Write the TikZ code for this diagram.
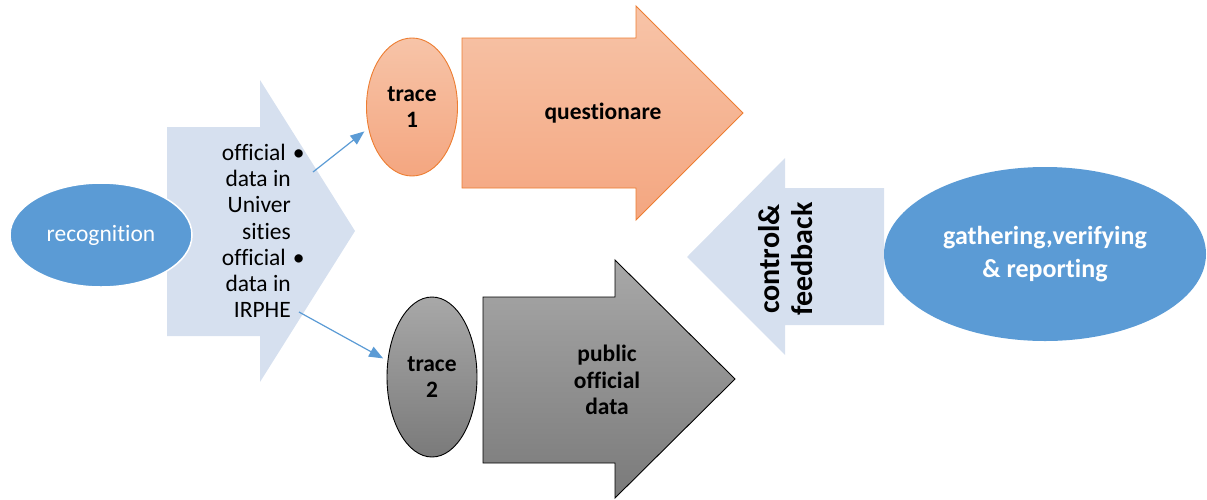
\documentclass[tikz,border=0pt]{standalone}
\usepackage{fontspec}
\setmainfont{Carlito}[Ligatures=NoCommon]
\usepackage{tikz}
\usetikzlibrary{arrows.meta,positioning,shapes.geometric}
\definecolor{my_blue}{RGB}{91,155,213}
\definecolor{my_pale}{RGB}{214,224,239}
\definecolor{my_orange}{RGB}{237,125,49}
\definecolor{my_peach_top}{RGB}{247,196,168}
\definecolor{my_peach_bot}{RGB}{244,166,128}
\definecolor{my_grey_top}{RGB}{168,168,168}
\definecolor{my_grey_bot}{RGB}{122,122,122}
\tikzset{
  blob/.style = {ellipse, inner sep=0pt, align=center, text centered},
  blob_b/.style = {blob, fill=my_blue, draw=white, line width=1.5pt, text=white},
  blob_o/.style = {blob, draw=my_orange, line width=0.9pt, top color=my_peach_top, bottom color=my_peach_bot},
  blob_g/.style = {blob, draw=black, line width=0.9pt, top color=my_grey_top, bottom color=my_grey_bot},
  label_t/.style = {inner sep=0pt, align=center, font=\fontsize{23.5}{26.5}\selectfont\bfseries}
}

\begin{document}
\begin{tikzpicture}[x=1pt,y=-1pt,
        link/.style={draw=my_blue, line width=1.2pt, -{Triangle[length=14pt,width=11pt]}, shorten >=5pt},
        pale/.style={fill=my_pale},
        peach/.style={draw=my_orange, line width=0.9pt, top color=my_peach_top, bottom color=my_peach_bot},
        grey/.style={draw=black, line width=0.9pt, top color=my_grey_top, bottom color=my_grey_bot}]
  \useasboundingbox (0,0) rectangle (1207,499);

  % block arrows
  \path[pale] (167,127) -- (260,127) -- (260,80) -- (355,231) -- (260,382) -- (260,336) -- (167,336) -- cycle;
  \path[peach] (462,38) -- (636,38) -- (636,6) -- (743,113) -- (636,220) -- (636,188) -- (462,188) -- cycle;
  \path[grey] (483,297) -- (615,297) -- (615,260) -- (735,379) -- (615,498) -- (615,463) -- (483,463) -- cycle;
  \path[pale] (884,188) -- (785,188) -- (785,158) -- (687,257) -- (785,355) -- (785,325) -- (884,325) -- cycle;

  % ellipses
  \node [blob_b, minimum width=182pt, minimum height=104pt, font=\fontsize{23.5}{26}\selectfont] (rec) at (101,235) {recognition};
  \node [blob_o, minimum width=91pt, minimum height=138pt, label_t] (trace1) at (412,107) {trace\\1};
  \node [blob_g, minimum width=90pt, minimum height=160pt, label_t] (trace2) at (432,377) {trace\\2};
  \node [blob_b, draw=none, minimum width=322pt, minimum height=174pt, font=\fontsize{26}{33}\selectfont\bfseries] (gather) at (1045,254) {gathering,verifying\\\& reporting};

  % texts on the arrows
  \node [inner sep=0pt, anchor=east, align=right, font=\fontsize{23.5}{26.2}\selectfont] (sources) at (291,231)
    {official\hspace{5pt}\rlap{\hspace{2pt}\textbullet}\\data in\\Univer\\sities\\official\hspace{5pt}\rlap{\hspace{2pt}\textbullet}\\data in\\IRPHE};
  \node [label_t] (quest) at (603,113) {questionare};
  \node [label_t] (pubdata) at (607,380) {public\\official\\data};
  \node [label_t, rotate=90, font=\fontsize{30}{33}\selectfont\bfseries] (ctrl) at (786,259) {control\&\\feedback};

  % links
  \coordinate (from1) at (313,172);
  \coordinate (from2) at (299,312);
  \draw[link] (from1) -- (trace1.206);
  \draw[link] (from2) -- (trace2.160);
\end{tikzpicture}
\end{document}
